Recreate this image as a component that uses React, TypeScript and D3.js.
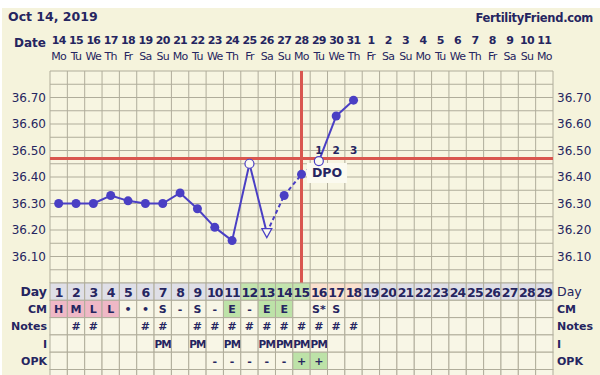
import React from 'react';
import * as d3 from 'd3';

const dateLabels = ['14', '15', '16', '17', '18', '19', '20', '21', '22', '23', '24', '25', '26', '27', '28', '29', '30', '31', '1', '2', '3', '4', '5', '6', '7', '8', '9', '10', '11'];
const weekdays = ['Mo', 'Tu', 'We', 'Th', 'Fr', 'Sa', 'Su', 'Mo', 'Tu', 'We', 'Th', 'Fr', 'Sa', 'Su', 'Mo', 'Tu', 'We', 'Th', 'Fr', 'Sa', 'Su', 'Mo', 'Tu', 'We', 'Th', 'Fr', 'Sa', 'Su', 'Mo'];
const cycleDays = [1, 2, 3, 4, 5, 6, 7, 8, 9, 10, 11, 12, 13, 14, 15, 16, 17, 18, 19, 20, 21, 22, 23, 24, 25, 26, 27, 28, 29];

// temperatures (°C) for cycle days 1..18
const temps = [36.30, 36.30, 36.30, 36.33, 36.31, 36.30, 36.30, 36.34, 36.28, 36.21, 36.16, 36.45, 36.19, 36.33, 36.41, 36.46, 36.63, 36.69];
// marker kinds: dot, open (hollow circle), tri (discarded)
const markers = ['dot', 'dot', 'dot', 'dot', 'dot', 'dot', 'dot', 'dot', 'dot', 'dot', 'dot', 'open', 'tri', 'dot', 'dot', 'open', 'dot', 'dot'];
// segment i connects day i+1 to day i+2
const segDashed = [false, false, false, false, false, false, false, false, false, false, false, false, true, true, true, false, false];

const yTicks = [36.10, 36.20, 36.30, 36.40, 36.50, 36.60, 36.70];
const coverline = 36.47;
const ovulationDay = 15;
const dpoLabels = ['1', '2', '3'];
const fertileDays = [12, 13, 14, 15];
const lutealDays = [16, 17, 18];

const cm = ['H', 'M', 'L', 'L', '•', '•', 'S', '-', 'S', '-', 'E', '-', 'E', 'E', '', 'S*', 'S'];
const notes = ['', '#', '#', '', '', '#', '#', '', '#', '#', '#', '#', '#', '#', '#', '#', '#', '#'];
const intercourse = ['', '', '', '', '', '', 'PM', '', 'PM', '', 'PM', '', 'PM', 'PM', 'PM', 'PM'];
const opk = ['', '', '', '', '', '', '', '', '', '-', '-', '-', '-', '-', '+', '+'];

const rowLabels = ['Day', 'CM', 'Notes', 'I', 'OPK'];

const W = 600;
const H = 375;
const left = 50;
const right = 553;
const top = 71;
const plotBottom = 283;
const rowH = 17.3;

const navy = '#252560';
const lineColor = '#4a3fc4';
const gridColor = '#b0ad9b';
const red = '#d9564f';
const font = '"DejaVu Sans", Verdana, sans-serif';

export default function App() {
  const x = d3.scaleLinear().domain([0.5, 29.5]).range([left, right]);
  const y = d3.scaleLinear().domain([36.0, 36.8]).range([plotBottom, top]);
  const colW = x(2) - x(1);

  const hLines = d3.range(36.0, 36.8001, 0.05);
  const vLines = d3.range(0.5, 29.6, 1);

  const points = temps.map((t, i) => ({ day: i + 1, t, kind: markers[i] }));
  const rowY = (r: number) => plotBottom + r * rowH;

  const dayBg = (d: number) =>
    fertileDays.includes(d) ? '#c3e4ae' : lutealDays.includes(d) ? '#fbe1cf' : '#dfdfe7';
  const cmBg = (v: string) =>
    v === 'H' || v === 'M' || v === 'L' ? '#efb8c6' : v === 'E' ? '#bde2a8' : '#f8f6e6';
  const opkBg = (v: string) => (v === '+' ? '#bde2a8' : '#f8f6e6');

  const rows: { values: string[]; bg: (v: string, d: number) => string }[] = [
    { values: cycleDays.map(String), bg: (_v, d) => dayBg(d) },
    { values: cm, bg: (v) => cmBg(v) },
    { values: notes, bg: () => '#f8f6e6' },
    { values: intercourse, bg: () => '#f8f6e6' },
    { values: opk, bg: (v) => opkBg(v) },
    { values: [], bg: () => '#f8f6e6' },
  ];

  return (
    <svg width={W} height={H} style={{ position: 'absolute', left: 0, top: 0 }} fontFamily={font}>
      <rect width={W} height={H} fill="#ffffff" />
      <rect x={2} y={8} width={W - 2} height={H - 8} fill="#f5f3dc" />

      {/* header */}
      <text x={8} y={21} fontSize={12.5} fontWeight="bold" fill={navy}>Oct 14, 2019</text>
      <text x={593} y={22} fontSize={11.5} fontWeight="bold" fill={navy} textAnchor="end" letterSpacing={-0.3}>FertilityFriend.com</text>
      <text x={46} y={47} fontSize={12} fontWeight="bold" fill={navy} textAnchor="end">Date</text>
      {dateLabels.map((d, i) => (
        <text key={'d' + i} x={x(i + 1)} y={44} fontSize={11} fontWeight="bold" fill={navy} textAnchor="middle" letterSpacing={-0.7}>{d}</text>
      ))}
      {weekdays.map((d, i) => (
        <text key={'w' + i} x={x(i + 1)} y={60} fontSize={11} fill={navy} textAnchor="middle" letterSpacing={-0.7}>{d}</text>
      ))}

      {/* temperature grid */}
      <rect x={left} y={top} width={right - left} height={plotBottom - top} fill="#f7f5e1" />
      {hLines.map((v, i) => (
        <line key={'h' + i} x1={left} x2={right} y1={y(v)} y2={y(v)} stroke={gridColor} strokeWidth={1} />
      ))}
      {vLines.map((v, i) => (
        <line key={'v' + i} x1={x(v)} x2={x(v)} y1={top} y2={plotBottom} stroke={gridColor} strokeWidth={1} />
      ))}
      {yTicks.map((t) => (
        <g key={'t' + t}>
          <text x={46} y={y(t) + 4} fontSize={12} fill={navy} textAnchor="end">{t.toFixed(2)}</text>
          <text x={557} y={y(t) + 4} fontSize={12} fill={navy}>{t.toFixed(2)}</text>
        </g>
      ))}

      {/* coverline and ovulation line */}
      <line x1={left} x2={right} y1={y(coverline)} y2={y(coverline)} stroke={red} strokeWidth={3} />
      <line x1={x(ovulationDay)} x2={x(ovulationDay)} y1={top} y2={plotBottom} stroke={red} strokeWidth={3} />

      {/* temperature line */}
      {points.slice(0, -1).map((p, i) => {
        const q = points[i + 1];
        return (
          <line key={'s' + i} x1={x(p.day)} y1={y(p.t)} x2={x(q.day)} y2={y(q.t)}
            stroke={lineColor} strokeWidth={2} strokeDasharray={segDashed[i] ? '4,3' : undefined} />
        );
      })}

      {/* DPO labels */}
      <rect x={307} y={163} width={40} height={20} fill="#fbfaf0" />
      <text x={327} y={177} fontSize={12.5} fontWeight="bold" fill={navy} textAnchor="middle">DPO</text>
      {dpoLabels.map((l, i) => (
        <text key={'dpo' + i} x={x(ovulationDay + 1 + i)} y={154} fontSize={10.5} fontWeight="bold" fill={navy} textAnchor="middle">{l}</text>
      ))}

      {points.map((p) => {
        const cx = x(p.day);
        const cy = y(p.t);
        if (p.kind === 'open') {
          return <circle key={'p' + p.day} cx={cx} cy={cy} r={4.5} fill="#fbfaf0" stroke={lineColor} strokeWidth={1.2} />;
        }
        if (p.kind === 'tri') {
          return (
            <path key={'p' + p.day} d={`M${cx - 5},${cy - 4}L${cx + 5},${cy - 4}L${cx},${cy + 5}Z`}
              fill="#fbfaf0" stroke={lineColor} strokeWidth={1.2} />
          );
        }
        return <circle key={'p' + p.day} cx={cx} cy={cy} r={4.5} fill={lineColor} />;
      })}

      {/* data table */}
      {rows.map((row, r) => (
        <g key={'r' + r}>
          {cycleDays.map((d, i) => {
            const v = row.values[i] || '';
            const isDay = r === 0;
            return (
              <g key={'c' + r + '-' + d}>
                <rect x={x(d) - colW / 2} y={rowY(r)} width={colW} height={rowH} fill={row.bg(v, d)}
                  stroke={gridColor} strokeWidth={1} />
                {v && (
                  <text x={x(d)} y={rowY(r) + rowH / 2 + (isDay ? 5 : 4)} fontSize={isDay ? 12.5 : v === 'PM' ? 10.5 : 11}
                    fontWeight="bold" fill={navy} textAnchor="middle" letterSpacing={isDay || v === 'PM' ? -0.8 : 0}>{v}</text>
                )}
              </g>
            );
          })}
        </g>
      ))}
      {rowLabels.map((l, r) => (
        <g key={'rl' + r}>
          <text x={47} y={rowY(r) + rowH / 2 + 4} fontSize={r === 0 ? 12.5 : 11} fontWeight="bold" fill={navy} textAnchor="end">{l}</text>
          <text x={557} y={rowY(r) + rowH / 2 + 4} fontSize={r === 0 ? 12.5 : 11} fontWeight={r === 0 ? 'normal' : 'bold'} fill={navy}>{l}</text>
        </g>
      ))}
    </svg>
  );
}
